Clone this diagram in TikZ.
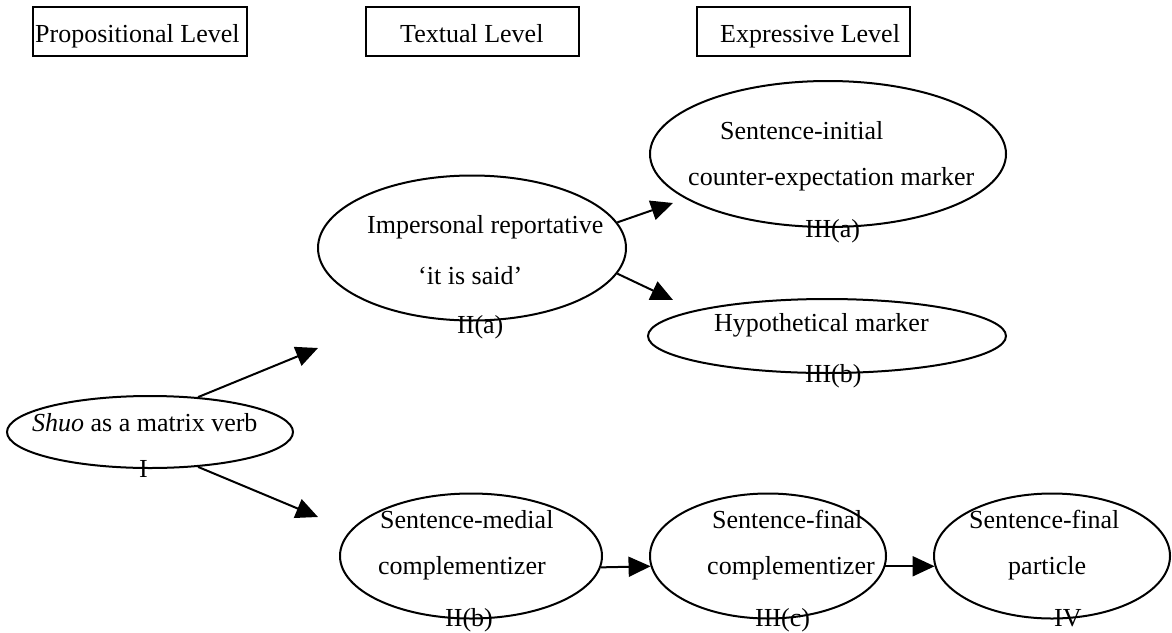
\documentclass[tikz,border=0pt]{standalone}
\usepackage{fontspec}
\setmainfont{Liberation Serif}
\usetikzlibrary{shapes.geometric,arrows.meta}
\begin{document}
\begin{tikzpicture}[x=1pt,y=-1pt,
  levelbox/.style={draw,line width=2pt,inner sep=0pt,minimum height=49pt,rectangle},
  ell/.style={draw,line width=2pt,ellipse,inner sep=0pt},
  txt/.style={inner sep=0pt,anchor=base west,font=\fontsize{26}{30}\selectfont},
  arr/.style={line width=2pt,-{Triangle[length=22pt,width=20pt]}}]
\useasboundingbox (0,0) rectangle (1172,632);
% level boxes
\node[levelbox,minimum width=214pt] (bP) at (140,31.5) {};
\node[levelbox,minimum width=213pt] (bT) at (472.5,31.5) {};
\node[levelbox,minimum width=213pt] (bE) at (803.5,31.5) {};
\node[txt] (tP) at (35,42) {Propositional Level};
\node[txt] (tT) at (400,42) {Textual Level};
\node[txt] (tE) at (720,42) {Expressive Level};
% texts
\node[txt] (tI1) at (32,431) {\textit{Shuo} as a matrix verb};
\node[txt] (tI2) at (139,477) {I};
\node[txt] (tA1) at (367,233) {Impersonal reportative};
\node[txt] (tA2) at (418,284) {‘it is said’};
\node[txt] (tA3) at (457,333) {II(a)};
\node[txt] (tB1) at (720,139) {Sentence-initial};
\node[txt] (tB2) at (688,185) {counter-expectation marker};
\node[txt] (tB3) at (805,237) {III(a)};
\node[txt] (tC1) at (714,331) {Hypothetical marker};
\node[txt] (tC2) at (805,382) {III(b)};
\node[txt] (tD1) at (380,528) {Sentence-medial};
\node[txt] (tD2) at (378,574) {complementizer};
\node[txt] (tD3) at (445,626) {II(b)};
\node[txt] (tE1) at (712,528) {Sentence-final};
\node[txt] (tE2) at (707,574) {complementizer};
\node[txt] (tE3) at (755,626) {III(c)};
\node[txt] (tF1) at (969,528) {Sentence-final};
\node[txt] (tF2) at (1008,574) {particle};
\node[txt] (tF3) at (1054,626) {IV};
% ellipses
\node[ell,minimum width=286pt,minimum height=72pt] (eI) at (150,432) {};
\node[ell,minimum width=308pt,minimum height=145pt] (eIIa) at (472,248) {};
\node[ell,minimum width=356pt,minimum height=146pt] (eIIIa) at (828,154) {};
\node[ell,minimum width=358pt,minimum height=74pt] (eIIIb) at (827,336) {};
\node[ell,minimum width=262pt,minimum height=125pt] (eIIb) at (471,556) {};
\node[ell,minimum width=236pt,minimum height=125pt] (eIIIc) at (768,556) {};
\node[ell,minimum width=236pt,minimum height=125pt] (eIV) at (1052,556) {};
% arrow tips
\coordinate (pA) at (318,348);
\coordinate (pB) at (318,517);
\coordinate (pC) at (673,203);
\coordinate (pD) at (673,300);
% connectors
\draw[arr] (eI.36) -- (pA);
\draw[arr] (eI.-36) -- (pB);
\draw[arr] (eIIa.10) -- (pC);
\draw[arr] (eIIa.-10) -- (pD);
\draw[arr] (eIIb.-5) -- (eIIIc.185);
\draw[arr] (eIIIc.-5) -- (eIV.185);
\end{tikzpicture}
\end{document}
